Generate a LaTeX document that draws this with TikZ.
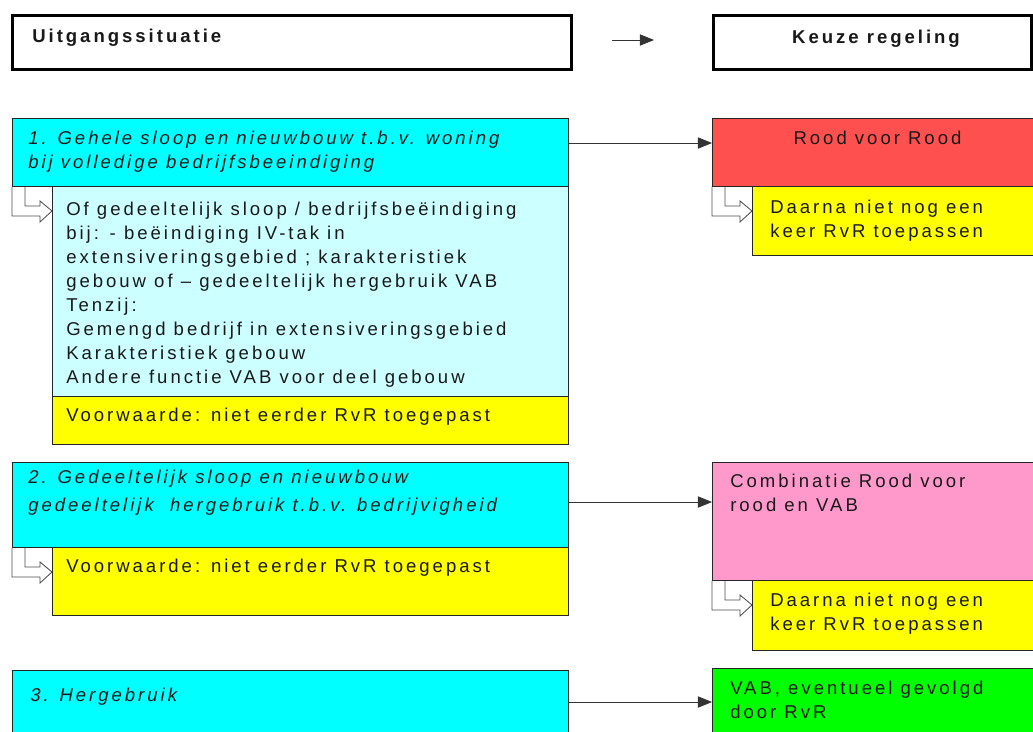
\documentclass[tikz,border=0pt]{standalone}
\usepackage{fontspec}
\setmainfont{Liberation Sans}[LetterSpace=16]
\usetikzlibrary{arrows.meta}
\definecolor{kopcyan}{HTML}{00FFFF}
\definecolor{lichtcyan}{HTML}{CCFFFF}
\definecolor{geel}{HTML}{FFFF00}
\definecolor{rood}{HTML}{FF5050}
\definecolor{roze}{HTML}{FF99CC}
\definecolor{groen}{HTML}{00FF00}
\begin{document}
\begin{tikzpicture}[x=0.025cm, y=-0.025cm,
    font=\fontsize{13.2pt}{17pt}\selectfont,
    box/.style={draw=black!85, line width=0.7pt, anchor=north west, inner sep=0pt},
    sz/.style 2 args={minimum width=#1*0.025cm, minimum height=#2*0.025cm},
    kop/.style={box, draw=black, line width=1.8pt, fill=white},
    txt/.style={anchor=north west, inner sep=0pt, align=left, text=black!90},
    conn/.style={draw=black!80, line width=0.6pt, -{Triangle[length=10pt,width=8pt]}},
    hook/.style={draw=black!70, line width=0.6pt}]
    \useasboundingbox (0,0) rectangle (1033,731);
    \clip (0,0) rectangle (1033,731);
    % headers
    \node[kop, sz={559}{54}] (kop1) at (11,14) {};
    \node[kop, sz={318}{54}] (kop2) at (712,14) {};
    \node[txt, anchor=base west] (kop1t) at (32,42) {\bfseries Uitgangssituatie};
    \node[txt, anchor=base] (kop2t) at (876,43) {\bfseries Keuze regeling};
    \coordinate (pa) at (612,40); \coordinate (pb) at (654,40);
    \draw[conn] (pa) -- (pb);

    % uitgangssituatie
    \node[box, fill=kopcyan, sz={556}{68}] (c1) at (12,118) {};
    \node[box, fill=lichtcyan, sz={516}{210}] (l1) at (52,186) {};
    \node[box, fill=geel, sz={516}{48}] (y1) at (52,396) {};
    \node[box, fill=kopcyan, sz={556}{85}] (c2) at (12,462) {};
    \node[box, fill=geel, sz={516}{68}] (y2) at (52,547) {};
    \node[box, fill=kopcyan, sz={556}{80}] (c3) at (12,670) {};

    % keuze regeling
    \node[box, fill=rood, sz={330}{68}] (r1) at (712,118) {};
    \node[box, fill=geel, sz={290}{69}] (ry1) at (752,186) {};
    \node[box, fill=roze, sz={330}{118}] (p2) at (712,462) {};
    \node[box, fill=geel, sz={290}{70}] (ry2) at (752,580) {};
    \node[box, fill=groen, sz={330}{80}] (g3) at (712,668) {};

    % teksten
    \node[txt] (c1t) at ([shift={(16,13)}]c1.north west) {\itshape 1. Gehele sloop en nieuwbouw t.b.v. woning\\\itshape bij volledige bedrijfsbeeindiging};
    \node[txt] (l1t) at ([shift={(14,16)}]l1.north west) {Of gedeeltelijk sloop / bedrijfsbeëindiging\\bij: - beëindiging IV-tak in\\extensiveringsgebied ; karakteristiek\\gebouw of – gedeeltelijk hergebruik VAB\\Tenzij:\\Gemengd bedrijf in extensiveringsgebied\\Karakteristiek gebouw\\Andere functie VAB voor deel gebouw};
    \node[txt] (y1t) at ([shift={(14,12)}]y1.north west) {Voorwaarde: niet eerder RvR toegepast};
    \node[txt] (c2t) at ([shift={(16,8)}]c2.north west) {\itshape 2. Gedeeltelijk sloop en nieuwbouw\\[3pt]\itshape gedeeltelijk\ \ hergebruik t.b.v. bedrijvigheid};
    \node[txt] (y2t) at ([shift={(14,12)}]y2.north west) {Voorwaarde: niet eerder RvR toegepast};
    \node[txt] (c3t) at ([shift={(18,18)}]c3.north west) {\itshape 3. Hergebruik};
    \node[txt, anchor=north] (r1t) at ([shift={(0,13)}]r1.north) {Rood voor Rood};
    \node[txt] (ry1t) at ([shift={(18,14)}]ry1.north west) {Daarna niet nog een\\keer RvR toepassen};
    \node[txt] (p2t) at ([shift={(18,12)}]p2.north west) {Combinatie Rood voor\\rood en VAB};
    \node[txt] (ry2t) at ([shift={(18,13)}]ry2.north west) {Daarna niet nog een\\keer RvR toepassen};
    \node[txt] (g3t) at ([shift={(18,13)}]g3.north west) {VAB, eventueel gevolgd\\door RvR};

    % verbindingen
    \foreach \a/\b/\d in {c1/r1/0.625, c2/p2/1, c3/g3/0.8} {
        \coordinate (v\a) at ([yshift=-\d cm]\a.north east);
        \draw[conn] (v\a) -- (v\a -| \b.west);
    }
    \foreach \a in {c1,c2,r1,p2}
        \draw[hook] (\a.south west) -- ++(0,29) -- ++(28,0) -- ++(0,6) -- ++(12,-11) -- ++(-12,-10) -- ++(0,5) -- ++(-15,0) -- ++(0,-19);
\end{tikzpicture}
\end{document}
